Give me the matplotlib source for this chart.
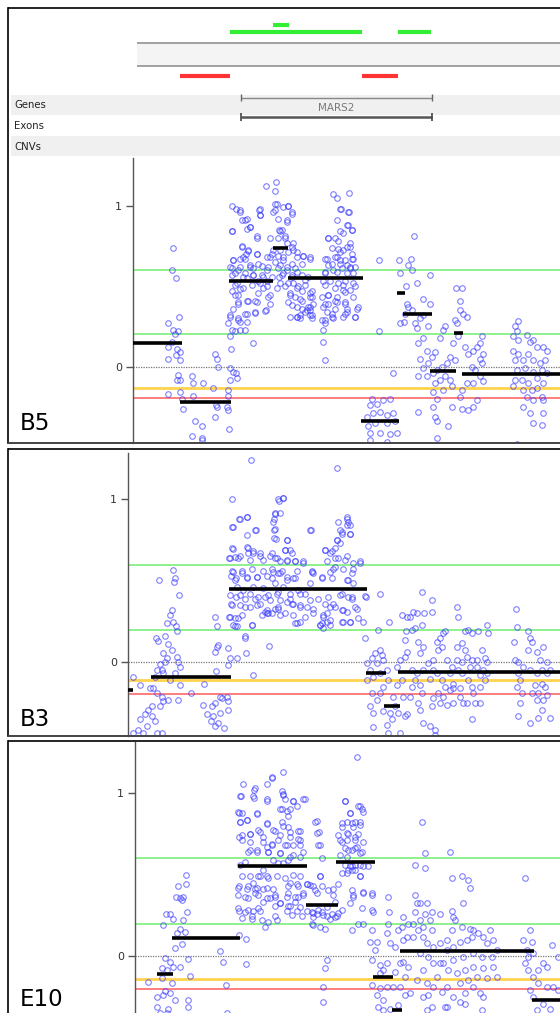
import matplotlib.pyplot as plt
from matplotlib.patches import Rectangle

# ---- data ----------------------------------------------------------------
# positions are in kb-like units along the region, values are log2 ratios
gene_name = 'MARS2'
gene_start, gene_end = 108, 299

gain_start = [139.7, 97, 265.3]
gain_end = [156, 228.7, 297.7]
gain_row = [25, 32.3, 32.3]
loss_start = [47, 228.7]
loss_end = [97, 265.3]

samples = ['B5', 'B3', 'E10']
gain_hi = 0.6
gain_lo = 0.2
warn_level = [-0.13, -0.11, -0.14]
loss_level = [-0.195, -0.195, -0.198]

b5_points = [
    (40, 0.735), (39, 0.60), (43, 0.55), (46, 0.31), (35, 0.27), (40, 0.23), (45, 0.22), (42, 0.20),
    (39, 0.155), (35, 0.12), (44, 0.11), (47, 0.09), (43, 0.07), (35, 0.045), (47, 0.04), (45, -0.05),
    (44, -0.08), (47, -0.08), (35, -0.17), (47, -0.155), (49, -0.20), (50, -0.26),
    (59, -0.06), (60, -0.10), (70, -0.10), (60, -0.18), (59, -0.43), (69, -0.44), (69, -0.455),
    (62, -0.34), (69, -0.37), (82, 0.08), (84, 0.045), (85, 0.0), (80, -0.135), (83, -0.24),
    (84, -0.25), (82, -0.31), (95, -0.18), (95, -0.27), (96, -0.39), (94, -0.25),
    (99, 1.00), (103, 0.98), (107, 0.96), (109, 0.91), (114, 0.915), (126, 0.97), (127, 0.94),
    (133, 1.12), (143, 1.15), (142, 1.09), (144, 1.01), (140, 0.96), (99, 0.84), (114, 0.855),
    (117, 0.865), (124, 0.80), (109, 0.745), (115, 0.725), (113, 0.70), (124, 0.70), (100, 0.66),
    (107, 0.67), (112, 0.67), (117, 0.62), (120, 0.61), (129, 0.625), (134, 0.60), (137, 0.68),
    (140, 0.725), (145, 0.80), (146, 0.85), (99, 0.61), (102, 0.58), (105, 0.60), (110, 0.56),
    (114, 0.55), (120, 0.57), (125, 0.53), (130, 0.56), (134, 0.53), (104, 0.52), (107, 0.48),
    (102, 0.445), (105, 0.40), (114, 0.41), (122, 0.41), (130, 0.49), (135, 0.435), (144, 0.49),
    (146, 0.56), (100, 0.36), (105, 0.30), (107, 0.28), (114, 0.33), (122, 0.335), (133, 0.35),
    (97, 0.31), (95, 0.27), (99, 0.23), (102, 0.22), (107, 0.23), (112, 0.23), (97, 0.19),
    (120, 0.15), (98, 0.11), (97, -0.01), (100, -0.03), (103, -0.04), (104, -0.07), (97, -0.08),
    (95, -0.145),
    (150, 0.99), (154, 0.91), (155, 1.00), (159, 0.96), (149, 0.85), (152, 0.81), (154, 0.77),
    (160, 0.77), (147, 0.725), (150, 0.68), (155, 0.715), (160, 0.725), (164, 0.68), (170, 0.69),
    (177, 0.67), (147, 0.63), (150, 0.58), (154, 0.60), (159, 0.56), (164, 0.59), (169, 0.57),
    (147, 0.52), (152, 0.50), (160, 0.52), (165, 0.50), (172, 0.54), (175, 0.56), (157, 0.455),
    (162, 0.435), (169, 0.41), (177, 0.455), (179, 0.435), (164, 0.31), (167, 0.32), (175, 0.37),
    (177, 0.35), (179, 0.32), (200, 1.07), (204, 1.045), (216, 1.08), (208, 0.98), (215, 0.96),
    (195, 0.80), (202, 0.80), (207, 0.84), (205, 0.73), (210, 0.725), (217, 0.745), (219, 0.85),
    (214, 0.88), (194, 0.67), (204, 0.68), (199, 0.64), (207, 0.66), (214, 0.63), (219, 0.67),
    (192, 0.59), (200, 0.60), (209, 0.61), (217, 0.61), (222, 0.62), (190, 0.53), (197, 0.53),
    (205, 0.52), (210, 0.51), (220, 0.52), (189, 0.435), (195, 0.445), (204, 0.435), (212, 0.465),
    (217, 0.475), (190, 0.37), (195, 0.39), (204, 0.40), (212, 0.39), (214, 0.36), (189, 0.29),
    (192, 0.27), (190, 0.23), (199, 0.33), (200, 0.30), (212, 0.33), (222, 0.31), (190, 0.155),
    (192, 0.04), (225, 0.37),
    (107, 0.97), (127, 0.98), (127, 0.94), (142, 1.01), (142, 0.97), (145, 0.92), (155, 1.00),
    (159, 0.95), (154, 0.90), (112, 0.91), (117, 0.87), (99, 0.84), (124, 0.81), (137, 0.80),
    (147, 0.84), (152, 0.80), (109, 0.75), (115, 0.72), (124, 0.70), (139, 0.70), (145, 0.69),
    (159, 0.745), (164, 0.71), (170, 0.69), (177, 0.68), (100, 0.66), (110, 0.68), (117, 0.63),
    (125, 0.64), (134, 0.68), (142, 0.65), (150, 0.66), (159, 0.64), (169, 0.64), (97, 0.62),
    (107, 0.62), (135, 0.62), (145, 0.61), (154, 0.62), (162, 0.61), (99, 0.57), (112, 0.58),
    (120, 0.57), (129, 0.57), (139, 0.56), (149, 0.57), (159, 0.57), (102, 0.51), (110, 0.49),
    (119, 0.51), (127, 0.52), (134, 0.50), (155, 0.52), (164, 0.49), (172, 0.51), (179, 0.47),
    (99, 0.47), (105, 0.445), (115, 0.41), (125, 0.455), (137, 0.445), (157, 0.445), (167, 0.42),
    (177, 0.37), (105, 0.39), (124, 0.40), (137, 0.39), (159, 0.38), (169, 0.36), (97, 0.32),
    (112, 0.33), (122, 0.34), (132, 0.345), (164, 0.31), (177, 0.32), (105, 0.29), (114, 0.28),
    (167, 0.30), (174, 0.35),
    (207, 0.98), (216, 0.96), (204, 0.91), (215, 0.88), (210, 0.83), (219, 0.85), (195, 0.80),
    (205, 0.78), (217, 0.77), (199, 0.74), (207, 0.71), (214, 0.745), (219, 0.70), (192, 0.67),
    (202, 0.68), (212, 0.66), (220, 0.67), (195, 0.63), (207, 0.64), (217, 0.62), (192, 0.58),
    (204, 0.59), (214, 0.58), (220, 0.58), (192, 0.51), (202, 0.49), (212, 0.53), (222, 0.50),
    (195, 0.445), (210, 0.475), (220, 0.435), (192, 0.39), (202, 0.41), (212, 0.40), (194, 0.34),
    (202, 0.36), (214, 0.34), (224, 0.36), (192, 0.29), (199, 0.31), (210, 0.31), (222, 0.31),
    (169, 0.47), (177, 0.435), (180, 0.39), (172, 0.34), (164, 0.37), (155, 0.40), (157, 0.31),
    (179, 0.30),
    (246, 0.66), (246, 0.22), (260, -0.04), (239, -0.20), (237, -0.24), (244, -0.23), (250, -0.21),
    (257, -0.20), (234, -0.31), (240, -0.29), (247, -0.28), (254, -0.30), (260, -0.29), (235, -0.37),
    (242, -0.35), (254, -0.35), (262, -0.34), (237, -0.41), (247, -0.41), (257, -0.42), (264, -0.41),
    (237, -0.455), (254, -0.465),
    (266, 0.66), (278, 0.67), (275, 0.63), (267, 0.58), (281, 0.81), (279, 0.60), (297, 0.57),
    (273, 0.50), (284, 0.52), (290, 0.42), (297, 0.39), (274, 0.39), (275, 0.37), (279, 0.35),
    (272, 0.33), (267, 0.27), (271, 0.28), (282, 0.27), (287, 0.30), (290, 0.32), (284, 0.24),
    (295, 0.25),
    (285, 0.145), (290, 0.175), (287, 0.05), (294, 0.10), (295, 0.02), (299, 0.06), (302, 0.09),
    (307, 0.175), (310, 0.23), (312, 0.25), (320, 0.145), (322, 0.29), (324, 0.27), (327, 0.35),
    (329, 0.49), (323, 0.49), (327, 0.41), (330, 0.33), (334, 0.31), (325, 0.19), (332, 0.12),
    (335, 0.08), (340, 0.10), (344, 0.12), (347, 0.145), (349, 0.19), (350, 0.08), (347, 0.05),
    (349, 0.02), (339, 0.0), (342, -0.02), (347, -0.06), (350, -0.09), (340, -0.10), (334, -0.10),
    (329, -0.145), (327, -0.19), (322, 0.04), (317, 0.06), (314, 0.02), (309, 0.0), (304, -0.02),
    (300, -0.04), (302, -0.10), (307, -0.08), (312, -0.06), (317, -0.08), (319, -0.12), (310, -0.145),
    (304, -0.20), (300, -0.155), (294, -0.06), (290, -0.01), (285, -0.06), (300, -0.25), (302, -0.31),
    (304, -0.34), (315, -0.37), (304, -0.445), (285, -0.28), (319, -0.25), (329, -0.26), (335, -0.27),
    (340, -0.25), (344, -0.21),
    (385, 0.285), (382, 0.25), (384, 0.22), (380, 0.19), (385, 0.165), (394, 0.195), (397, 0.155),
    (400, 0.165), (404, 0.125), (410, 0.125), (414, 0.10), (380, 0.10), (385, 0.08), (382, 0.04),
    (390, 0.04), (395, 0.08), (400, 0.04), (407, 0.02), (412, 0.04), (384, -0.02), (392, -0.01),
    (400, -0.03), (409, -0.02), (414, -0.04), (382, -0.08), (389, -0.08), (395, -0.10), (404, -0.07),
    (410, -0.10), (380, -0.12), (390, -0.145), (399, -0.145), (404, -0.135), (409, -0.19), (394, -0.19),
    (400, -0.21), (410, -0.21), (390, -0.25), (397, -0.29), (410, -0.29), (400, -0.35), (409, -0.36),
    (384, -0.48),
]

b3_points = [
    (26, 0.505), (40, 0.566), (42, 0.52), (41, 0.49), (46, 0.41), (39, 0.32), (37, 0.29), (34, 0.24),
    (40, 0.25), (43, 0.22), (44, 0.19), (23, 0.15), (25, 0.13), (32, 0.16), (35, 0.11), (39, 0.076),
    (30, 0.055), (34, 0.025), (32, 0.004), (27, -0.01), (24, -0.047), (29, -0.047), (44, 0.035),
    (45, 0.004), (47, -0.027), (42, -0.067), (47, -0.14), (37, -0.11), (30, -0.067), (22, -0.088),
    (17, -0.16), (20, -0.16), (24, -0.19), (29, -0.21), (30, -0.24), (27, -0.27), (35, -0.23),
    (45, -0.23), (19, -0.27), (15, -0.29), (12, -0.32), (19, -0.33), (22, -0.36), (7, -0.35),
    (14, -0.39), (5, -0.415), (10, -0.435), (24, -0.435), (29, -0.435), (0, -0.435), (7, -0.14),
    (0, -0.09),
    (58, -0.19), (71, -0.13), (70, -0.26), (74, -0.32), (79, -0.27), (82, -0.25), (82, -0.39),
    (78, -0.36), (80, -0.33), (87, -0.31), (85, -0.37), (91, -0.40), (89, -0.22), (94, -0.21),
    (95, -0.29), (95, -0.235), (87, -0.21), (83, -0.053), (82, 0.065), (85, 0.106), (84, 0.096),
    (82, 0.28), (84, 0.225), (95, 0.086), (97, 0.025), (104, 0.025), (95, -0.016), (120, -0.078),
    (112, 0.15), (113, 0.055), (136, 0.10),
    (118, 1.24), (99, 1.00), (106, 0.88), (114, 0.89), (100, 0.83), (114, 0.78), (123, 0.81),
    (141, 0.81), (143, 0.755), (146, 0.99), (142, 0.914), (141, 0.88), (100, 0.695), (114, 0.705),
    (115, 0.67), (120, 0.67), (127, 0.65), (137, 0.65), (144, 0.64), (96, 0.64), (102, 0.645),
    (107, 0.65), (100, 0.556), (109, 0.546), (98, 0.53), (103, 0.515), (114, 0.525), (124, 0.525),
    (134, 0.53), (140, 0.556), (104, 0.464), (110, 0.444), (120, 0.464), (130, 0.454), (142, 0.485),
    (145, 0.546), (103, 0.40), (112, 0.39), (122, 0.39), (132, 0.40), (137, 0.38), (144, 0.42),
    (98, 0.36), (107, 0.35), (117, 0.34), (127, 0.36), (134, 0.30), (142, 0.33), (96, 0.28),
    (102, 0.27), (109, 0.29), (100, 0.23), (104, 0.22), (119, 0.23), (132, 0.31), (139, 0.30),
    (145, 0.33),
    (150, 1.006), (147, 0.914), (154, 0.75), (152, 0.69), (157, 0.69), (147, 0.62), (154, 0.63),
    (162, 0.62), (170, 0.61), (147, 0.546), (154, 0.525), (160, 0.515), (150, 0.464), (157, 0.42),
    (165, 0.444), (172, 0.42), (177, 0.485), (180, 0.546), (179, 0.556), (189, 0.525), (197, 0.556),
    (202, 0.587), (205, 0.64), (192, 0.69), (197, 0.67), (202, 0.70), (204, 0.75), (207, 0.81),
    (209, 0.79), (214, 0.84), (215, 0.86), (217, 0.79), (214, 0.88), (204, 1.19), (178, 0.81),
    (147, 0.38), (154, 0.37), (160, 0.36), (167, 0.34), (174, 0.34), (180, 0.30), (190, 0.29),
    (194, 0.30), (197, 0.26), (189, 0.24), (187, 0.23), (190, 0.21), (164, 0.24), (167, 0.25),
    (160, 0.29), (152, 0.30), (214, 0.65), (220, 0.61), (227, 0.61), (219, 0.546), (214, 0.505),
    (220, 0.485), (209, 0.42), (215, 0.40), (224, 0.33), (230, 0.25), (233, 0.40), (219, 0.39),
    (214, 0.31), (209, 0.32), (200, 0.36), (197, 0.34), (210, 0.25), (217, 0.25),
    (107, 0.88), (114, 0.89), (99, 0.83), (122, 0.81), (142, 0.91), (145, 1.00), (150, 1.01),
    (140, 0.86), (142, 0.82), (141, 0.76), (154, 0.75), (177, 0.81), (205, 0.86), (214, 0.89),
    (217, 0.84), (209, 0.80), (217, 0.79), (99, 0.70), (115, 0.70), (120, 0.68), (127, 0.67),
    (139, 0.67), (152, 0.69), (159, 0.67), (192, 0.69), (199, 0.68), (204, 0.75), (207, 0.73),
    (97, 0.64), (105, 0.64), (117, 0.63), (130, 0.63), (142, 0.64), (154, 0.62), (162, 0.62),
    (170, 0.62), (194, 0.62), (202, 0.64), (212, 0.63), (227, 0.62), (99, 0.56), (109, 0.56),
    (119, 0.57), (130, 0.56), (139, 0.57), (149, 0.56), (164, 0.56), (179, 0.56), (200, 0.57),
    (210, 0.57), (220, 0.57), (102, 0.505), (114, 0.515), (124, 0.525), (139, 0.515), (154, 0.505),
    (162, 0.515), (189, 0.52), (199, 0.515), (215, 0.505), (97, 0.41), (107, 0.41), (117, 0.42),
    (125, 0.40), (135, 0.41), (145, 0.43), (157, 0.39), (167, 0.42), (177, 0.38), (185, 0.39),
    (195, 0.40), (207, 0.41), (219, 0.40), (232, 0.405), (99, 0.35), (112, 0.34), (124, 0.35),
    (134, 0.32), (145, 0.34), (159, 0.36), (167, 0.35), (180, 0.33), (192, 0.36), (202, 0.34),
    (210, 0.32), (222, 0.34), (97, 0.28), (105, 0.27), (129, 0.29), (135, 0.30), (147, 0.29),
    (162, 0.24), (172, 0.28), (190, 0.28), (194, 0.25), (209, 0.25), (217, 0.25), (225, 0.27),
    (102, 0.22), (119, 0.23), (187, 0.23), (197, 0.23), (112, 0.16),
    (247, 0.42), (232, 0.15), (245, 0.20), (256, 0.245), (234, -0.002), (239, 0.025), (242, 0.055),
    (247, 0.076), (249, 0.045), (244, -0.006), (237, -0.047), (234, -0.11), (240, -0.088),
    (247, -0.067), (254, -0.047), (250, 0.014), (255, -0.11), (250, -0.15), (247, -0.19),
    (239, -0.19), (244, -0.23), (237, -0.27), (240, -0.31), (250, -0.30), (257, -0.31), (262, -0.27),
    (265, -0.31), (259, -0.35), (254, -0.385), (240, -0.395), (255, -0.435), (267, -0.435),
    (272, -0.33), (274, -0.32), (264, -0.14), (269, -0.11), (270, -0.21), (260, -0.21), (264, -0.027),
    (267, 0.014), (272, 0.035), (274, 0.065), (272, 0.137), (273, 0.19), (279, 0.20), (282, 0.21),
    (277, 0.28), (280, 0.31), (284, 0.30), (269, 0.29), (274, 0.28), (289, 0.43), (291, 0.30),
    (299, 0.31), (299, 0.38), (289, 0.23), (285, 0.127), (287, 0.055), (290, 0.096), (295, -0.006),
    (290, -0.047), (284, -0.067), (279, -0.047), (282, -0.11), (287, -0.14), (289, -0.19),
    (279, -0.15), (277, -0.21), (285, -0.25), (287, -0.29), (290, -0.37), (297, -0.39), (302, -0.415),
    (302, -0.445), (299, -0.27), (300, -0.22), (307, -0.25), (305, -0.19), (310, -0.21), (314, -0.26),
    (312, -0.15), (309, -0.11), (304, -0.067), (300, -0.047), (297, -0.10), (304, 0.127), (307, 0.147),
    (310, 0.18), (312, 0.19), (309, 0.096), (305, 0.076), (300, 0.014), (314, 0.014), (319, -0.027),
    (317, -0.067), (320, -0.13), (320, -0.16), (317, -0.17), (327, -0.16), (329, -0.067),
    (325, -0.047), (324, 0.014), (324, 0.096), (329, 0.117), (332, 0.076), (334, 0.035), (329, 0.004),
    (325, 0.28), (324, 0.34), (332, 0.19), (335, 0.20), (339, 0.18), (345, 0.19), (349, 0.076),
    (352, 0.025), (354, 0.004), (350, -0.047), (347, -0.078), (352, -0.11), (347, -0.15), (339, -0.15),
    (335, -0.11), (340, -0.19), (342, -0.25), (347, -0.25), (354, -0.067), (355, 0.18), (354, 0.23),
    (334, -0.25), (339, -0.35), (330, -0.25), (327, -0.21), (320, -0.25), (344, -0.027),
    (337, -0.027), (339, 0.014), (344, 0.014),
    (383, 0.33), (384, 0.215), (381, 0.127), (395, 0.19), (397, 0.147), (399, 0.127), (395, 0.076),
    (404, 0.065), (410, 0.096), (382, 0.014), (385, 0.004), (390, -0.027), (397, -0.047), (407, 0.014),
    (414, 0.004), (417, -0.047), (414, -0.067), (409, -0.047), (404, -0.067), (385, -0.067),
    (387, -0.11), (384, -0.15), (389, -0.19), (387, -0.25), (385, -0.33), (399, -0.19), (405, -0.19),
    (404, -0.23), (410, -0.23), (412, -0.15), (409, -0.13), (405, -0.34), (409, -0.29), (397, -0.37),
    (417, -0.34), (414, -0.20), (402, -0.14),
]

e10_points = [
    (53, 0.50), (45, 0.43), (53, 0.44), (43, 0.365), (47, 0.355), (50, 0.365), (49, 0.345), (33, 0.26),
    (37, 0.26), (30, 0.19), (40, 0.23), (54, 0.27), (50, 0.22), (47, 0.17), (52, 0.15), (44, 0.14),
    (42, 0.05), (49, 0.073), (32, -0.012), (37, -0.033), (47, -0.063), (55, -0.018), (29, -0.073),
    (34, -0.084), (40, -0.067), (57, -0.12), (15, -0.16), (29, -0.135), (39, -0.165), (32, -0.21),
    (37, -0.227), (24, -0.247), (30, -0.237), (42, -0.267), (55, -0.27), (24, -0.31), (35, -0.32),
    (55, -0.31), (27, -0.35), (34, -0.35),
    (87, 0.035), (90, -0.033), (93, -0.175), (94, -0.35), (106, 0.13), (113, 0.104), (113, -0.05),
    (110, 1.055), (121, 1.02), (134, 1.055), (139, 1.09), (108, 0.98), (121, 0.97), (134, 0.95),
    (106, 0.88), (109, 0.88), (124, 0.87), (114, 0.835), (107, 0.82), (134, 0.81), (125, 0.775),
    (140, 0.775), (117, 0.75), (106, 0.73), (130, 0.73), (109, 0.71), (117, 0.70), (139, 0.68),
    (134, 0.67), (115, 0.64), (124, 0.64), (135, 0.64), (112, 0.58), (140, 0.59), (107, 0.56),
    (130, 0.53), (125, 0.49), (134, 0.49), (120, 0.45), (106, 0.43), (114, 0.41), (122, 0.41),
    (130, 0.415), (140, 0.415), (105, 0.375), (115, 0.355), (125, 0.375), (134, 0.355), (142, 0.365),
    (106, 0.28), (112, 0.27), (120, 0.28), (127, 0.28), (142, 0.31), (129, 0.22), (119, 0.23),
    (132, 0.18), (144, 0.22),
    (150, 1.13), (149, 1.01), (150, 0.99), (160, 0.95), (170, 0.96), (147, 0.90), (154, 0.89),
    (157, 0.90), (150, 0.80), (155, 0.79), (165, 0.77), (147, 0.74), (157, 0.73), (165, 0.72),
    (152, 0.68), (160, 0.68), (167, 0.68), (147, 0.63), (157, 0.61), (150, 0.57), (167, 0.61),
    (160, 0.50), (167, 0.49), (157, 0.45), (165, 0.43), (174, 0.44), (180, 0.43), (184, 0.385),
    (155, 0.385), (162, 0.365), (170, 0.385), (147, 0.325), (157, 0.31), (167, 0.30), (154, 0.28),
    (164, 0.28), (174, 0.28), (179, 0.27), (184, 0.26), (189, 0.27), (199, 0.26), (202, 0.24),
    (180, 0.24), (180, 0.19), (187, 0.18), (192, 0.17), (185, 0.68), (184, 0.83), (186, 0.76),
    (189, 0.60), (187, 0.49), (194, 0.30), (197, 0.23), (205, 0.44), (200, 0.375), (194, -0.02),
    (192, -0.07), (190, -0.19), (190, -0.28),
    (122, 1.03), (139, 1.10), (107, 0.98), (120, 0.98), (134, 0.96), (105, 0.885), (107, 0.82),
    (114, 0.835), (124, 0.875), (150, 0.995), (152, 0.96), (160, 0.95), (172, 0.96), (164, 0.92),
    (149, 0.90), (155, 0.86), (149, 0.825), (134, 0.815), (109, 0.74), (117, 0.75), (127, 0.76),
    (142, 0.77), (157, 0.76), (167, 0.77), (130, 0.70), (139, 0.69), (145, 0.71), (154, 0.68),
    (167, 0.71), (117, 0.65), (124, 0.65), (135, 0.64), (147, 0.63), (160, 0.62), (170, 0.64),
    (155, 0.59), (145, 0.57), (109, 0.49), (117, 0.49), (127, 0.49), (135, 0.48), (144, 0.49),
    (152, 0.48), (155, 0.43), (164, 0.44), (174, 0.44), (105, 0.42), (115, 0.43), (124, 0.42),
    (134, 0.42), (142, 0.375), (137, 0.355), (130, 0.335), (122, 0.385), (112, 0.365), (154, 0.365),
    (165, 0.365), (105, 0.295), (115, 0.285), (125, 0.295), (147, 0.325), (155, 0.305), (162, 0.335),
    (170, 0.375), (109, 0.235), (119, 0.245), (135, 0.21), (142, 0.245), (159, 0.255), (169, 0.245),
    (182, 0.825), (184, 0.755), (187, 0.68), (187, 0.49), (189, 0.43), (182, 0.405), (177, 0.435),
    (195, 0.405), (200, 0.415), (202, 0.335), (185, 0.285), (180, 0.265), (190, 0.255), (179, 0.20),
    (194, 0.245), (204, 0.245), (212, 0.95), (227, 0.92), (230, 0.885), (217, 0.875), (209, 0.815),
    (219, 0.815), (227, 0.805), (214, 0.755), (222, 0.73), (230, 0.70), (209, 0.70), (215, 0.65),
    (222, 0.66), (229, 0.64), (212, 0.56), (217, 0.55), (222, 0.56), (230, 0.55), (219, 0.53),
    (227, 0.49), (214, 0.51), (219, 0.405), (230, 0.395), (220, 0.365), (239, 0.385), (239, 0.285),
    (229, 0.295), (217, 0.325), (209, 0.285), (205, 0.265),
    (224, 1.22), (212, 0.95), (217, 0.875), (225, 0.92), (229, 0.90), (214, 0.82), (222, 0.82),
    (227, 0.82), (209, 0.79), (220, 0.79), (215, 0.75), (205, 0.74), (225, 0.75), (207, 0.71),
    (214, 0.71), (222, 0.71), (212, 0.66), (224, 0.67), (219, 0.65), (207, 0.62), (214, 0.61),
    (227, 0.63), (219, 0.55), (227, 0.56), (209, 0.51), (215, 0.53), (222, 0.53), (227, 0.49),
    (235, 0.55), (230, 0.385), (239, 0.375), (220, 0.375), (225, 0.20), (219, 0.16), (230, 0.20),
    (240, 0.27), (239, 0.16), (237, 0.09), (244, 0.09), (242, 0.04), (239, -0.022), (247, -0.053),
    (254, -0.043), (262, -0.094), (250, -0.084), (247, -0.10), (239, -0.175), (247, -0.196),
    (254, -0.186), (244, -0.237), (250, -0.267), (245, -0.31), (250, -0.33), (257, -0.32),
    (265, -0.30), (260, -0.186), (267, -0.186), (255, 0.365), (256, 0.27), (255, 0.20), (254, 0.14),
    (262, 0.06), (257, 0.08), (265, 0.16), (270, 0.24), (269, 0.18), (275, 0.20), (274, 0.12),
    (270, 0.10), (267, -0.043), (270, -0.033), (275, -0.063), (272, -0.124), (277, -0.227),
    (272, -0.237), (282, 0.375), (284, 0.325), (282, 0.27), (287, 0.325), (294, 0.325), (289, 0.82),
    (292, 0.63), (282, 0.56), (292, 0.54), (299, 0.27), (297, 0.22), (280, 0.20), (280, 0.12),
    (287, 0.22), (290, 0.18), (285, 0.16), (290, 0.12), (299, 0.16), (294, 0.08), (300, 0.06),
    (287, 0.02), (295, -0.002), (300, -0.043), (307, -0.043), (290, -0.084), (284, -0.145),
    (294, -0.165), (300, -0.186), (295, -0.237), (290, -0.247), (304, -0.124), (299, -0.31),
    (294, -0.33), (307, 0.26), (314, 0.10), (319, 0.28), (320, 0.24), (317, 0.64), (319, 0.48),
    (329, 0.49), (335, 0.47), (337, 0.42), (330, 0.325), (322, 0.22), (329, 0.18), (337, 0.17),
    (340, 0.16), (319, 0.16), (307, 0.08), (314, 0.04), (320, 0.06), (327, 0.09), (334, 0.10),
    (339, 0.12), (345, 0.14), (350, 0.12), (357, 0.16), (354, 0.08), (360, 0.10), (364, 0.04),
    (359, -0.002), (349, -0.002), (340, 0.02), (330, -0.002), (320, -0.022), (310, -0.043),
    (315, -0.084), (324, -0.10), (332, -0.084), (340, -0.063), (350, -0.073), (360, -0.063),
    (364, -0.124), (354, -0.135), (344, -0.124), (335, -0.145), (327, -0.165), (314, -0.186),
    (309, -0.216), (320, -0.247), (332, -0.227), (340, -0.186), (347, -0.227), (350, -0.247),
    (327, -0.277), (314, -0.31), (312, -0.31), (332, -0.29), (349, -0.33), (292, 0.26),
    (392, 0.48), (397, 0.16), (390, 0.10), (399, 0.09), (394, 0.04), (400, 0.02), (395, -0.002),
    (392, -0.043), (395, -0.084), (400, -0.124), (405, -0.084), (410, -0.043), (414, -0.063),
    (419, 0.07), (425, -0.002), (405, -0.165), (414, -0.186), (420, -0.186), (425, -0.206),
    (400, -0.247), (410, -0.29), (417, -0.32), (404, -0.33), (397, -0.206),
]

# segment means (start, end, mean)
b5_seg_start = [0, 47, 96, 140, 155, 228, 264, 270, 297, 321, 329]
b5_seg_end = [49, 98, 140, 155, 230, 266, 272, 299, 323, 330, 430]
b5_seg_mean = [0.145, -0.22, 0.53, 0.74, 0.55, -0.34, 0.46, 0.33, -0.025, 0.21, -0.048]

b3_seg_start = [-5, 18, 96, 233, 251, 265]
b3_seg_end = [0, 98, 234, 253, 267, 430]
b3_seg_mean = [-0.17, -0.092, 0.45, -0.067, -0.27, -0.061]

e10_seg_start = [24, 39, 105, 173, 203, 240, 259, 267, 399]
e10_seg_end = [40, 107, 174, 205, 242, 260, 269, 401, 430]
e10_seg_mean = [-0.106, 0.112, 0.555, 0.314, 0.58, -0.124, -0.33, 0.033, -0.267]

# ---- figure ----------------------------------------------------------------
W, H = 560, 1013
fig = plt.figure(figsize=(W / 100, H / 100), dpi=100)
fig.patch.set_facecolor('white')


def px_axes(left, top, right, bottom, **kw):
    return fig.add_axes([left / W, 1 - bottom / H, (right - left) / W, (bottom - top) / H], **kw)


X_RIGHT = 427

# top track (calls, genes, exons)
trk = px_axes(8, 9, 560, 157)
trk.set_xlim(8 - 133, X_RIGHT)
trk.set_ylim(157, 9)
trk.axis('off')
trk.add_patch(Rectangle((4, 43), 500, 23, fc='#f4f4f4', ec='none'))
trk.hlines([43, 66], 4, 500, color='#9a9a9a', lw=1.3)
trk.hlines(gain_row, gain_start, gain_end, color='#33ee33', lw=3)
trk.hlines([76.3] * len(loss_start), loss_start, loss_end, color='#ff3333', lw=3)
trk.add_patch(Rectangle((-122, 95), 650, 20, fc='#f0f0f0', ec='none'))
trk.add_patch(Rectangle((-122, 136), 650, 20, fc='#f0f0f0', ec='none'))
for lab, yy in zip(['Genes', 'Exons', 'CNVs'], [105, 126, 146.5]):
    trk.text(-119, yy, lab, fontsize=7.3, color='#222', va='center', ha='left')
trk.hlines(97.7, gene_start, gene_end, color='#888', lw=1)
trk.vlines([gene_start, gene_end], 94.5, 101, color='#666', lw=1)
trk.text((gene_start + gene_end) / 2, 108, gene_name, fontsize=7.5, color='#7a7a7a',
         ha='center', va='center')
trk.hlines(117.3, gene_start, gene_end, color='#555', lw=1.8)
trk.vlines([gene_start, gene_end], 113.5, 121, color='#444', lw=1.2)

# scatter panels: (axis px, top px, bottom px, ylim, points, segments)
panels = [
    (133, 158, 443, (-0.474, 1.296), b5_points, b5_seg_start, b5_seg_end, b5_seg_mean),
    (128, 453, 736, (-0.452, 1.284), b3_points, b3_seg_start, b3_seg_end, b3_seg_mean),
    (135, 741.5, 1013, (-0.347, 1.315), e10_points, e10_seg_start, e10_seg_end, e10_seg_mean),
]
label_base = [430, 726, 1006]

for i, (axpx, top, bot, ylim, pts, s0, s1, mu) in enumerate(panels):
    ax = px_axes(axpx, top, 560, bot)
    ax.set_xlim(axpx - 133, X_RIGHT)
    ax.set_ylim(*ylim)
    ax.patch.set_alpha(0)
    for sp in ['top', 'right', 'bottom']:
        ax.spines[sp].set_visible(False)
    ax.spines['left'].set_color('#555')
    ax.spines['left'].set_linewidth(1)
    ax.set_xticks([])
    ax.set_yticks([0, 1])
    ax.set_yticklabels(['0', '1'])
    ax.tick_params(axis='y', length=5, width=1, color='#555', labelsize=8,
                   labelcolor='#333', pad=3)

    ax.axhline(gain_hi, color='#86f086', lw=1.3, zorder=1)
    ax.axhline(gain_lo, color='#86f086', lw=1.3, zorder=1)
    ax.axhline(warn_level[i], color='#ffd34d', lw=2, zorder=1)
    ax.axhline(loss_level[i], color='#ff7373', lw=1.3, zorder=1)
    ax.axhline(0, color='#777', lw=0.9, ls=(0, (1, 1)), zorder=1)

    xs = [p[0] for p in pts]
    ys = [p[1] for p in pts]
    ax.plot(xs, ys, 'o', ls='none', mfc='none', mec='#3a3aff', mew=0.8, ms=4.0,
            alpha=0.65, zorder=2)
    ax.hlines(mu, s0, s1, color='black', lw=2.6, zorder=3)

    fig.text(20 / W, 1 - label_base[i] / H, samples[i], fontsize=16.5, color='black',
             ha='left', va='baseline')

# panel frames
ov = px_axes(0, 0, W, H, zorder=10)
ov.set_xlim(0, W)
ov.set_ylim(H, 0)
ov.axis('off')
ov.patch.set_alpha(0)
frames = [(8, 443), (449, 736), (741, 1020)]
for top, bot in frames:
    ov.plot([7.5, 570], [top, top], color='black', lw=1.2, solid_capstyle='butt')
    ov.plot([7.5, 7.5], [top, bot], color='black', lw=1.2)
    ov.plot([7.5, 570], [bot, bot], color='#444', lw=1.4, solid_capstyle='butt')

fig.savefig('out.png', dpi=100)
